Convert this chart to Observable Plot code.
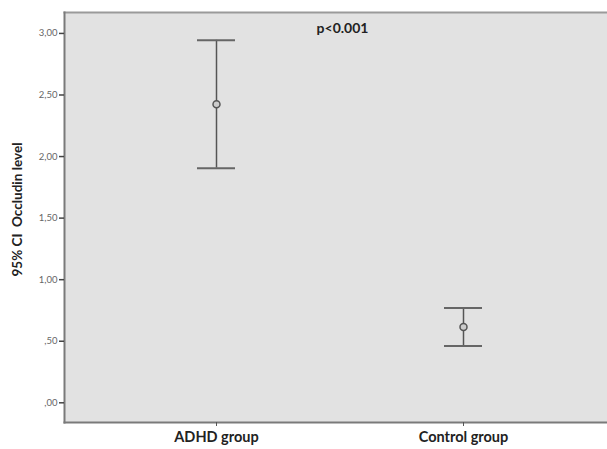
<!DOCTYPE html>
<html>
<head>
<meta charset="utf-8">
<script src="https://cdn.jsdelivr.net/npm/d3@7"></script>
<script src="https://cdn.jsdelivr.net/npm/@observablehq/plot@0.6"></script>
<style>
  html, body { margin: 0; padding: 0; background: #fff; }
  #chart svg { display: block; font-family: Lato, "Open Sans", sans-serif; }
  #chart svg [aria-label="x-axis tick label"] text { font-weight: bold; font-size: 14.5px; fill: #222; }
  #chart svg [aria-label="y-axis tick label"] text { font-size: 9.5px; fill: #666; }
</style>
</head>
<body>
<div id="chart"></div>
<script>
const groups = ["ADHD group", "Control group"];
const means = [2.425, 0.616];
const lower = [1.906, 0.462];
const upper = [2.944, 0.770];
const yTicks = [0, 0.5, 1, 1.5, 2, 2.5, 3];
const yLabel = "95% CI  Occludin level";
const note = "p<0.001";

const data = groups.map((g, i) => ({group: g, mean: means[i], lo: lower[i], hi: upper[i]}));
const fmt = d => d3.format(".2f")(d).replace(".", ",").replace(/^0/, "");

const chart = Plot.plot({
  width: 607,
  height: 449,
  marginLeft: 64,
  marginRight: 0,
  marginTop: 12,
  marginBottom: 27,
  style: {background: "#fff", overflow: "visible"},
  x: {type: "band", domain: groups, paddingInner: 0.846, paddingOuter: 0.522, align: 0.515, label: null},
  y: {domain: [-0.16, 3.17], label: null},
  marks: [
    Plot.frame({fill: "#e2e2e2", stroke: null}),
    Plot.frame({anchor: "top", stroke: "#9a9a9a", strokeWidth: 2}),
    Plot.frame({anchor: "left", stroke: "#7a7a7a", strokeWidth: 2}),
    Plot.frame({anchor: "bottom", stroke: "#7a7a7a", strokeWidth: 2}),
    Plot.axisY({ticks: yTicks, tickFormat: fmt, tickSize: 5, tickPadding: 2, stroke: "#444", strokeWidth: 1.5, label: null}),
    Plot.axisX({tickSize: 4, tickPadding: 5, stroke: "#555", label: null}),
    Plot.ruleX(data, {x: "group", y1: "lo", y2: "hi", stroke: "#555", strokeWidth: 1.5}),
    Plot.tickY(data, {x: "group", y: "lo", stroke: "#666", strokeWidth: 2}),
    Plot.tickY(data, {x: "group", y: "hi", stroke: "#666", strokeWidth: 2}),
    Plot.dot(data, {x: "group", y: "mean", r: 3.5, stroke: "#555", strokeWidth: 1.5, fill: "#ccc"}),
    Plot.text([note], {frameAnchor: "top-left", dx: 278, dy: 11, textAnchor: "middle", fontWeight: "bold", fontSize: 14, fill: "#222"}),
    Plot.text([yLabel], {frameAnchor: "left", dx: -47, dy: -8, rotate: -90, textAnchor: "middle", fontWeight: "bold", fontSize: 13.5, fill: "#222"})
  ]
});
document.getElementById("chart").appendChild(chart);
</script>
</body>
</html>
